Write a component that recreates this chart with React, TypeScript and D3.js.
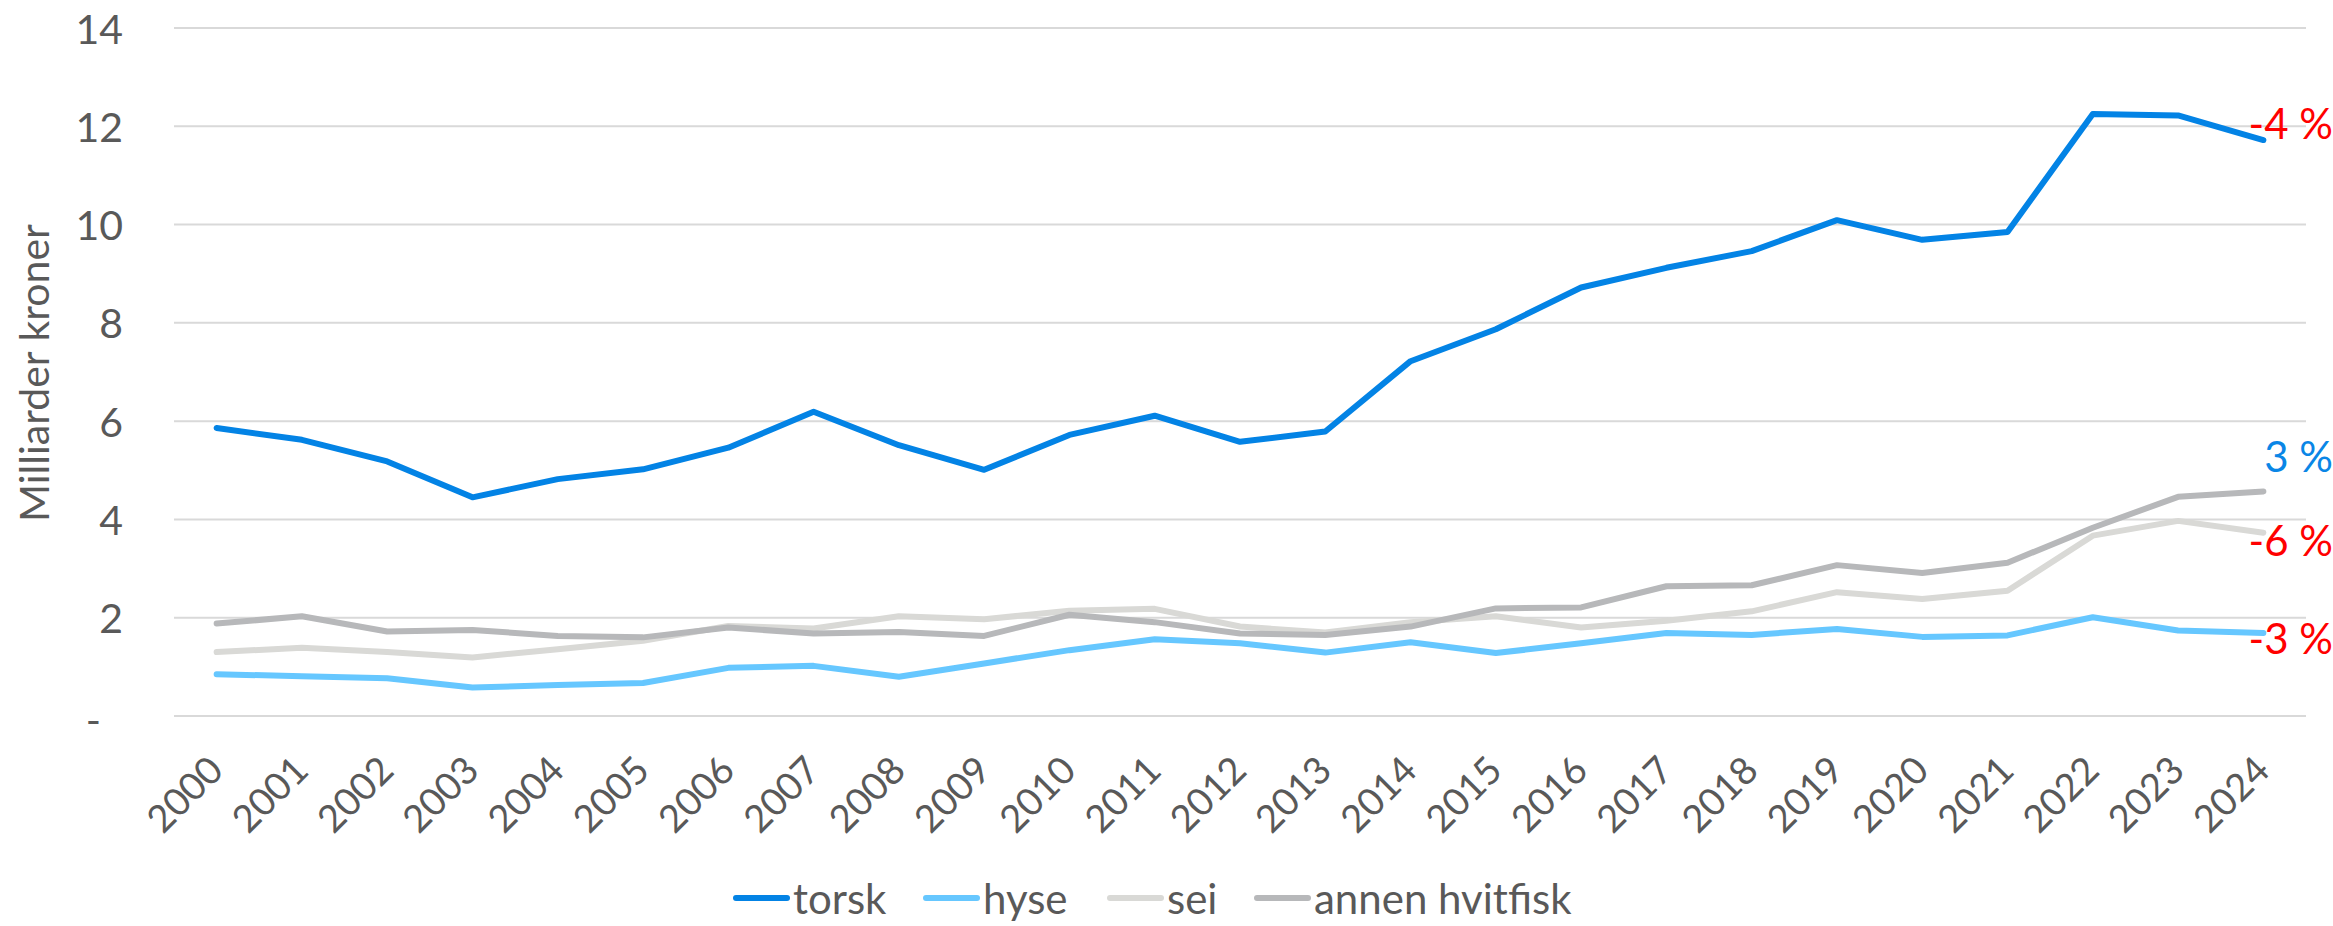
import React from "react";
import * as d3 from "d3";

const years = ["2000","2001","2002","2003","2004","2005","2006","2007","2008","2009","2010","2011","2012","2013","2014","2015","2016","2017","2018","2019","2020","2021","2022","2023","2024"];
const torsk = [5.86,5.62,5.18,4.45,4.82,5.02,5.46,6.19,5.51,5.01,5.72,6.11,5.58,5.79,7.22,7.87,8.72,9.12,9.46,10.09,9.69,9.85,12.25,12.22,11.72];
const hyse = [0.85,0.81,0.77,0.58,0.63,0.67,0.98,1.02,0.8,1.07,1.34,1.56,1.48,1.29,1.5,1.28,1.48,1.69,1.65,1.77,1.61,1.64,2.01,1.74,1.69];
const sei = [1.3,1.39,1.3,1.19,1.36,1.53,1.83,1.78,2.03,1.97,2.14,2.18,1.82,1.7,1.91,2.03,1.8,1.94,2.13,2.52,2.38,2.55,3.67,3.97,3.73];
const annen = [1.88,2.03,1.72,1.75,1.63,1.6,1.8,1.68,1.71,1.63,2.06,1.91,1.68,1.65,1.82,2.19,2.21,2.64,2.66,3.07,2.91,3.12,3.83,4.46,4.57];
const seriesNames = ["torsk", "hyse", "sei", "annen hvitfisk"];
const changeLabels = ["-4 %", "-3 %", "-6 %", "3 %"];
const yTicks = [0, 2, 4, 6, 8, 10, 12, 14];
const yTitle = "Milliarder kroner";

const colors = ["#0383E5", "#66C7FF", "#D9D9D6", "#B7B8BA"];
const labelColors = ["#FF0000", "#FF0000", "#FF0000", "#0A86E6"];
const labelDy = [-17, 5, 7, -35];
const legendX = [733, 923, 1107, 1254];
const FONT = "Lato, 'Noto Sans', sans-serif";
const TXT = "#595959";

export default function App() {
  const W = 2333, H = 926;
  const x = d3.scaleBand<string>().domain(years).range([174, 2306]);
  const cx = (yr: string) => (x(yr) as number) + x.bandwidth() / 2;
  const y = d3.scaleLinear().domain([0, 14]).range([716, 28]);
  const allSeries = [torsk, hyse, sei, annen];
  const line = d3.line<number>().x((_, i) => cx(years[i])).y((v) => y(v));
  const order = [2, 3, 1, 0];

  return (
    <svg width={W} height={H} style={{ position: "absolute", left: 0, top: 0, background: "#fff" }} fontFamily={FONT}>
      <rect x={0} y={0} width={W} height={H} fill="#fff" />
      {yTicks.map((t) => (
        <line key={t} x1={174} x2={2306} y1={y(t)} y2={y(t)} stroke="#D9D9D9" strokeWidth={2} />
      ))}
      {yTicks.map((t) => (
        <text key={"l" + t} x={t === 0 ? 101 : 123} y={y(t) + (t === 0 ? 3 : 0)} textAnchor="end" dominantBaseline="central" fontSize={41} fill={TXT}>
          {t === 0 ? "-" : String(t)}
        </text>
      ))}
      <text transform={`translate(33,373) rotate(-90)`} textAnchor="middle" dominantBaseline="central" fontSize={41} fill={TXT}>
        {yTitle}
      </text>
      {years.map((yr) => (
        <text key={yr} transform={`translate(${cx(yr) - 2},762) rotate(-45)`} textAnchor="end" dominantBaseline="central" fontSize={38} fill={TXT}>
          {yr}
        </text>
      ))}
      {order.map((si) => (
        <path key={si} d={line(allSeries[si]) as string} fill="none" stroke={colors[si]} strokeWidth={6} strokeLinejoin="round" strokeLinecap="round" />
      ))}
      {allSeries.map((s, si) => (
        <text key={"c" + si} x={2333} y={y(s[s.length - 1]) + labelDy[si]} textAnchor="end" fontSize={42} fill={labelColors[si]} dominantBaseline="central">
          {changeLabels[si]}
        </text>
      ))}
      {seriesNames.map((n, i) => (
        <g key={n}>
          <line x1={legendX[i] + 3} x2={legendX[i] + 54} y1={898} y2={898} stroke={colors[i]} strokeWidth={6} strokeLinecap="round" />
          <text x={legendX[i] + 60} y={914} fontSize={42} fill={TXT}>{n}</text>
        </g>
      ))}
    </svg>
  );
}
